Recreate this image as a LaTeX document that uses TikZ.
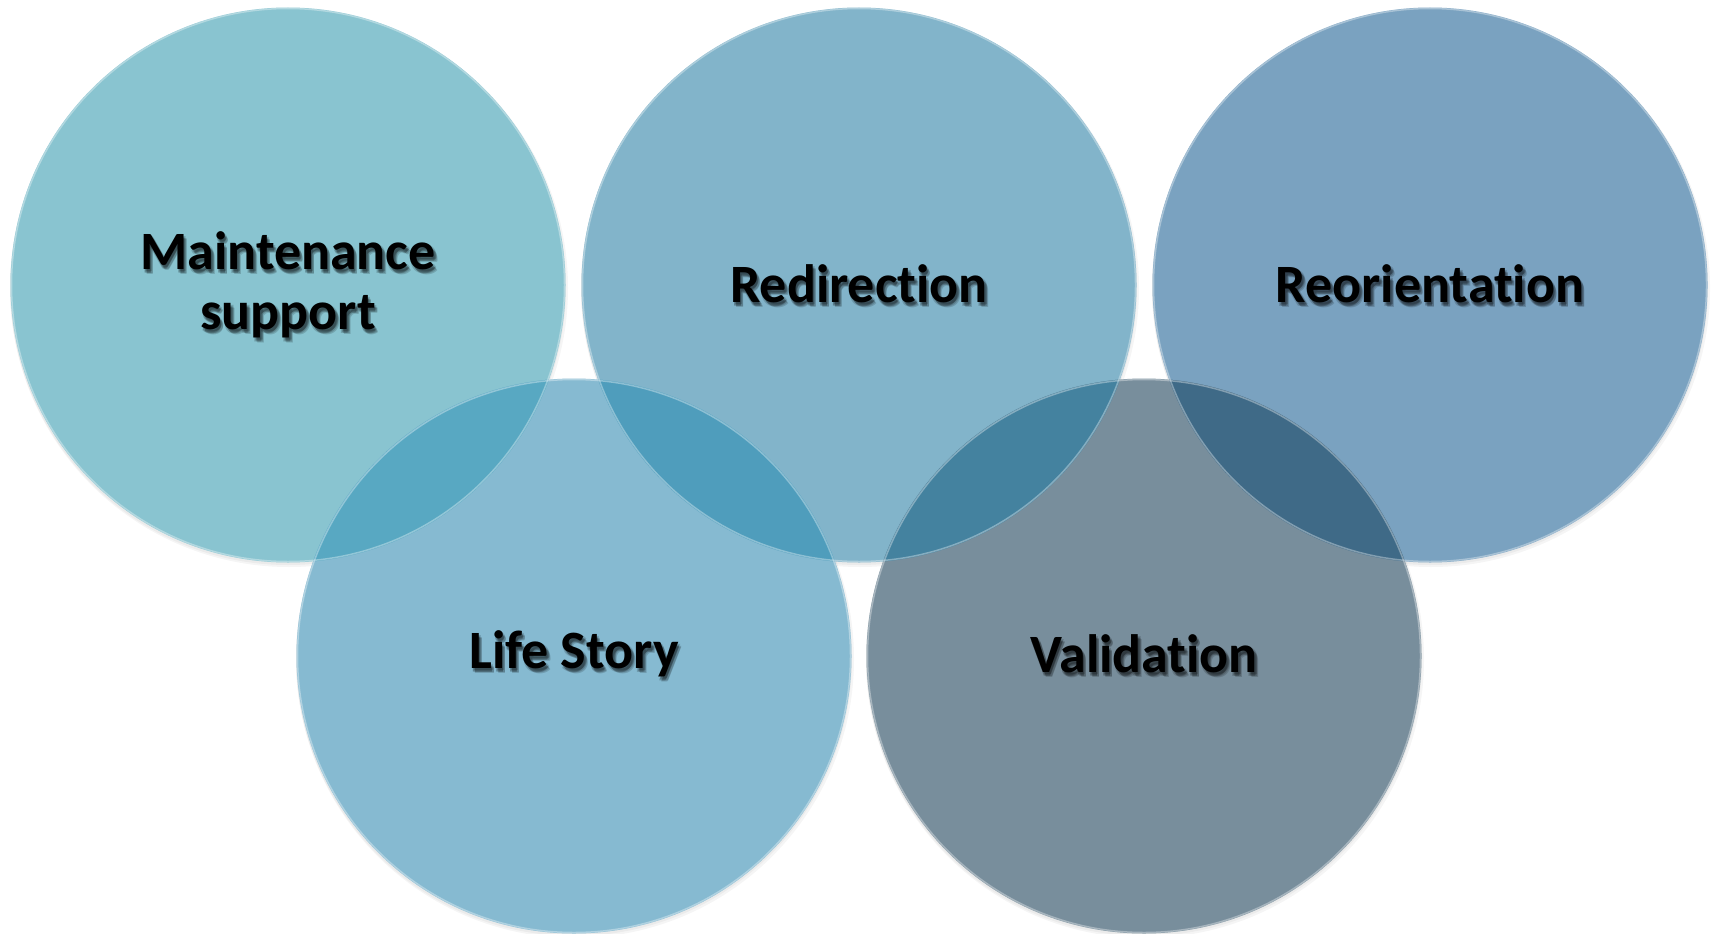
\documentclass[tikz,border=0pt]{standalone}
\usepackage{fontspec}
\setmainfont{Carlito}[Ligatures=NoCommon]
\definecolor{cA}{HTML}{89C4D0}
\definecolor{cB}{HTML}{82B4CA}
\definecolor{cC}{HTML}{7AA2C0}
\definecolor{cD}{HTML}{86BAD1}
\definecolor{cE}{HTML}{788E9C}
\definecolor{lAD}{HTML}{58A8C2}
\definecolor{lBD}{HTML}{4F9DBC}
\definecolor{lBE}{HTML}{44829F}
\definecolor{lCE}{HTML}{3F6A87}
\tikzset{
  disc/.style={circle, minimum size=555pt, inner sep=0pt},
  lbl/.style={font=\fontsize{54}{60}\selectfont\bfseries, align=center, text=black},
  shd/.style={font=\fontsize{54}{60}\selectfont\bfseries, align=center, text=black, opacity=0.16},
}
\newcommand{\shlabel}[3]{%
  \foreach \dx/\dy in {1.5/2.5,3/3.5,2.5/1.5,3.5/4.5,1/4}{
    \node[shd] at ([xshift=\dx pt,yshift=-\dy pt]#1) {#2};
  }
  \node[lbl] (#3) at (#1) {#2};
}
\begin{document}
\begin{tikzpicture}[x=1pt,y=-1pt]
\useasboundingbox (0,0) rectangle (1713,934);
% soft shadows
\foreach \p in {(288,285),(859,285),(1430,285),(574,656),(1144,656)}{
  \fill[black,opacity=0.04] \p ++(1,3) circle (279);
  \fill[black,opacity=0.04] \p ++(0,2) circle (278);
}
% circles
\node[disc, fill=cA] (c1) at (288,285) {};
\node[disc, fill=cB] (c2) at (859,285) {};
\node[disc, fill=cC] (c3) at (1430,285) {};
\node[disc, fill=cD] (c4) at (574,656) {};
\node[disc, fill=cE] (c5) at (1144,656) {};
% lenses
\begin{scope}
  \clip (288,285) circle (277.5);
  \fill[lAD] (574,656) circle (277.5);
\end{scope}
\begin{scope}
  \clip (859,285) circle (277.5);
  \fill[lBD] (574,656) circle (277.5);
\end{scope}
\begin{scope}
  \clip (859,285) circle (277.5);
  \fill[lBE] (1144,656) circle (277.5);
\end{scope}
\begin{scope}
  \clip (1430,285) circle (277.5);
  \fill[lCE] (1144,656) circle (277.5);
\end{scope}
% rim highlights
\foreach \p in {(288,285),(859,285),(1430,285),(574,656),(1144,656)}{
  \draw[white,opacity=0.35,line width=1.5pt] \p circle (276.5);
}
% labels
\shlabel{288,285}{Maintenance\\support}{t1}
\shlabel{859,284}{Redirection}{t2}
\shlabel{1430,284}{Reorientation}{t3}
\shlabel{574,654}{Life Story}{t4}
\shlabel{1144,654}{Validation}{t5}
\end{tikzpicture}
\end{document}
